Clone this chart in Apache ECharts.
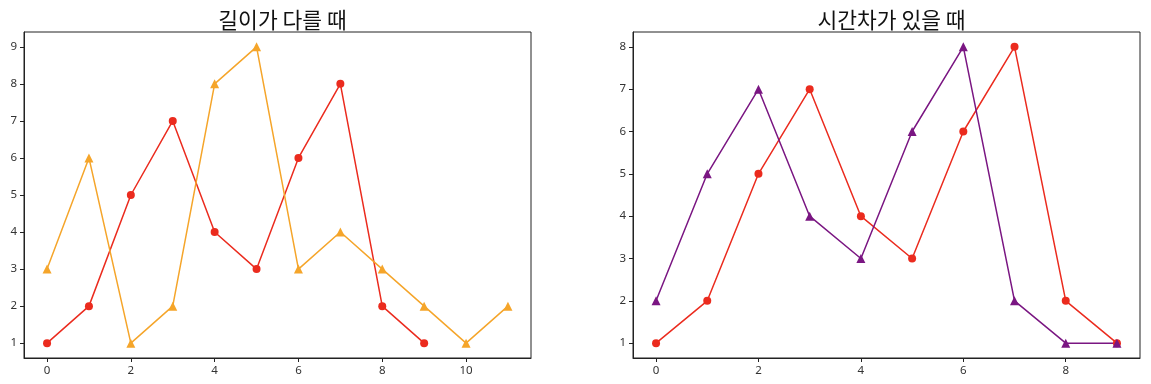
<!DOCTYPE html>
<html><head><meta charset="utf-8">
<script src="https://cdn.jsdelivr.net/npm/echarts@6/dist/echarts.min.js"></script>
<style>html,body{margin:0;padding:0;background:#fff}#c{width:1151px;height:384px}</style>
</head><body><div id="c"></div>
<script>
const titles = ['길이가 다를 때', '시간차가 있을 때'];
const leftA = [1, 2, 5, 7, 4, 3, 6, 8, 2, 1];
const leftB = [3, 6, 1, 2, 8, 9, 3, 4, 3, 2, 1, 2];
const rightA = [1, 2, 5, 7, 4, 3, 6, 8, 2, 1];
const rightB = [2, 5, 7, 4, 3, 6, 8, 2, 1, 1];
const leftXTicks = [0, 2, 4, 6, 8, 10];
const rightXTicks = [0, 2, 4, 6, 8];
const leftYTicks = [1, 2, 3, 4, 5, 6, 7, 8, 9];
const rightYTicks = [1, 2, 3, 4, 5, 6, 7, 8];

const RED = '#EB2B1E', ORANGE = '#F5A52A', PURPLE = '#7A1682';
const font = '"Noto Sans", "DejaVu Sans", sans-serif';
const pts = arr => arr.map((v, i) => [i, v]);

function ax(gi, min, max, ticks) {
  return {type: 'value', gridIndex: gi, min, max,
    axisLine: {show: true, onZero: false, lineStyle: {color: '#222', width: 1}},
    splitLine: {show: false},
    axisTick: {show: true, length: 4, lineStyle: {color: '#222'}, customValues: ticks},
    axisLabel: {color: '#333', fontSize: 11.5, fontFamily: font, margin: 7, customValues: ticks}};
}
function ser(gi, data, color, symbol, size) {
  return {type: 'line', xAxisIndex: gi, yAxisIndex: gi, data: pts(data),
    symbol, symbolSize: size, showSymbol: true, animation: false,
    lineStyle: {color, width: 1.5}, itemStyle: {color, borderWidth: 0}};
}

const tstyle = {fontSize: 21.5, fontWeight: 'normal', color: '#111', fontFamily: '"Noto Sans CJK KR", sans-serif'};
const chart = echarts.init(document.getElementById('c'));
chart.setOption({
  backgroundColor: '#fff',
  animation: false,
  title: [
    {text: titles[0], left: 277.5, textAlign: 'center', top: 4, textStyle: tstyle},
    {text: titles[1], left: 886.5, textAlign: 'center', top: 4, textStyle: tstyle}
  ],
  grid: [
    {left: 24, top: 32, width: 507, height: 326, show: true, borderColor: '#222', borderWidth: 1, backgroundColor: 'transparent'},
    {left: 633, top: 32, width: 507, height: 326, show: true, borderColor: '#222', borderWidth: 1, backgroundColor: 'transparent'}
  ],
  xAxis: [ax(0, -0.55, 11.55, leftXTicks), ax(1, -0.45, 9.45, rightXTicks)],
  yAxis: [ax(0, 0.6, 9.4, leftYTicks), ax(1, 0.65, 8.35, rightYTicks)],
  series: [
    ser(0, leftA, RED, 'circle', 8),
    ser(0, leftB, ORANGE, 'triangle', 9),
    ser(1, rightA, RED, 'circle', 8),
    ser(1, rightB, PURPLE, 'triangle', 9)
  ]
});
</script></body></html>
